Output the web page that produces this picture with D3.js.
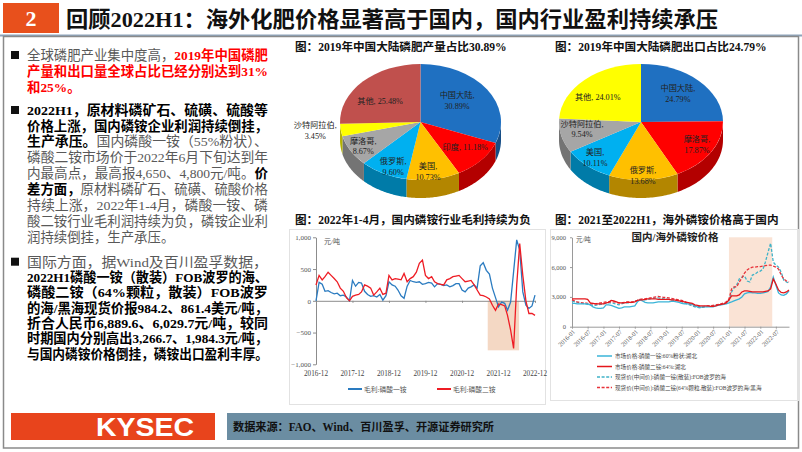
<!DOCTYPE html>
<html><head><meta charset="utf-8">
<script src="https://cdn.jsdelivr.net/npm/d3@7"></script>
<style>
body{margin:0;background:#fff;}
svg{display:block;}
text{font-family:"Liberation Serif","Noto Sans CJK SC",serif;}
</style></head><body>
<svg id="c" width="802" height="452"></svg>
<script>
// ---------------- DATA ----------------
const pie1Labels = ["中国大陆","印度","美国","俄罗斯","摩洛哥","沙特阿拉伯","其他"];
const pie1Values = [30.89,11.18,10.73,9.60,8.67,3.45,25.48];
const pie2Labels = ["中国大陆","摩洛哥","俄罗斯","美国","沙特阿拉伯","其他"];
const pie2Values = [24.79,17.87,13.68,10.11,9.54,24.01];

// gross margin, monthly 2016-12 .. 2022-12 (元/吨)
const marginMAP = [0,290,260,150,160,130,110,120,80,90,60,0,
  320,230,290,280,150,100,70,80,60,100,10,80,
  300,250,230,170,80,40,230,320,300,290,300,260,
  270,290,280,220,270,260,240,250,220,240,270,270,
  170,140,200,220,250,200,550,600,480,420,200,50,
  -95,-20,-40,-150,-20,460,960,800,140,-70,-120,-80,
  90];
const marginDAP = [250,400,330,380,450,400,350,300,200,150,50,0,
  70,90,100,140,250,230,200,90,140,200,100,120,
  400,330,350,340,330,430,300,350,380,450,590,640,
  400,350,380,300,270,260,250,330,350,380,390,400,
  350,300,310,320,250,170,90,80,60,30,-70,-150,
  -50,-60,-80,-230,-460,-750,250,900,400,0,-200,-200,
  -230];
const marginXTicks = ["2016-12","2017-12","2018-12","2019-12","2020-12","2021-12","2022-12"];
const marginYTicks = [1000,500,0,-500,-1000];
const marginShade = ["2021-08-15","2022-06-25"];
const marginShadeFloor = -780;

// prices, monthly 2016-01 .. 2022-12 (元/吨)
const priceMAPHubei = [2350,2350,2300,2300,2300,2300,2300,2200,2000,1900,1850,1850,
  1900,2200,2200,2150,2050,1950,1850,1900,2000,2000,2000,2050,
  2100,2500,2700,2600,2450,2400,2400,2400,2450,2500,2500,2500,
  2500,2500,2550,2550,2500,2450,2350,2300,2300,2300,2250,2100,
  2000,1950,2000,2000,2000,2000,2000,2100,2150,2200,2250,2300,
  2400,2500,2600,2700,2800,3000,3300,3400,3450,3400,3400,3350,
  3350,3400,3450,3550,4000,5000,4200,3400,3200,3150,3300,3600];
const priceDAPHubei = [2800,2800,2800,2800,2800,2800,2750,2400,2350,2300,2300,2300,
  2300,2400,2450,2650,2600,2500,2400,2400,2400,2450,2450,2450,
  2500,2650,2700,2700,2750,2800,2800,2800,2800,2750,2750,2750,
  2750,2750,2700,2700,2650,2600,2550,2500,2450,2400,2350,2200,
  2150,2100,2100,2100,2100,2050,2050,2100,2200,2250,2300,2400,
  2700,3100,3100,3100,3200,3500,3600,3600,3550,3500,3500,3500,
  3500,3500,3550,3600,3800,4800,4300,3700,3450,3400,3500,3700];
const priceMAPFob = [2600,2500,2450,2400,2350,2300,2250,2200,2150,2150,2200,2250,
  2300,2350,2400,2400,2350,2250,2200,2300,2400,2400,2400,2450,
  2550,2650,2700,2700,2700,2750,2800,2850,2900,2900,2850,2800,
  2800,2750,2700,2650,2650,2600,2500,2400,2300,2200,2100,2000,
  1950,1900,1950,2000,2050,2100,2100,2150,2200,2250,2300,2400,
  2600,3500,3900,4200,4800,5000,5100,4600,4500,5200,5300,5500,
  5600,5800,6500,7500,8400,6500,6200,6000,5500,4700,4500,4400];
const priceDAPFob = [2700,2600,2500,2450,2400,2400,2350,2300,2300,2300,2350,2400,
  2450,2500,2500,2500,2500,2450,2400,2400,2450,2500,2500,2500,
  2550,2650,2750,2800,2800,2850,2900,2950,3000,3050,3000,2950,
  2950,2900,2850,2800,2750,2700,2650,2550,2400,2300,2200,2100,
  2050,2000,2000,2050,2100,2100,2150,2200,2250,2300,2400,2500,
  2800,3800,4000,4000,4500,4900,5400,5700,5900,6000,6000,6050,
  6050,6100,6150,6200,6200,6100,6000,5800,5200,4800,4600,4500];
const priceXTicks = ["2016-01","2016-07","2017-01","2017-07","2018-01","2018-07","2019-01","2019-07","2020-01","2020-07","2021-01","2021-07","2022-01","2022-07"];
const priceYTicks = [0,3000,6000,9000];
const priceShade = ["2021-01-01","2022-05-20"];
const priceSeriesNames = ["市场价格:磷酸一铵:60%粉状:湖北","市场价格:磷酸二铵:64%:湖北",
  "现货价(中间价):磷酸一铵(散装):FOB波罗的海","现货价(中间价):磷酸二铵(64%颗粒,散装):FOB波罗的海/黑海"];

// ---------------- DRAW ----------------
const svg = d3.select("#c");
const FONT = '"Liberation Serif","Noto Sans CJK SC",serif';

// header
svg.append("rect").attr("x",3).attr("y",3).attr("width",56).attr("height",30).attr("fill","#e8501c");
svg.append("text").attr("x",31).attr("y",26).attr("text-anchor","middle").attr("fill","#fff")
  .attr("font-size",22).attr("font-weight","bold").text("2");
svg.append("text").attr("x",66).attr("y",27).attr("font-size",22).attr("font-weight","bold")
  .attr("fill","#111").attr("textLength",652).attr("lengthAdjust","spacingAndGlyphs")
  .text("回顾2022H1：海外化肥价格显著高于国内，国内行业盈利持续承压");
svg.append("line").attr("x1",0).attr("x2",802).attr("y1",35.5).attr("y2",35.5).attr("stroke","#8ea4bb").attr("stroke-width",2);
svg.append("rect").attr("x",3.5).attr("y",36.5).attr("width",795).attr("height",411.5)
  .attr("fill","none").attr("stroke","#8a8a8a").attr("stroke-width",1.5);

// left text
const st = {g:{fill:"#595959",w:"normal"}, b:{fill:"#000",w:"bold"}, r:{fill:"#ff0000",w:"bold"}};
const lines = [
 {c:55,bul:1,full:1,p:[["g","全球磷肥产业集中度高，"],["r","2019年中国磷肥"]]},
 {c:71,full:1,p:[["r","产量和出口量全球占比已经分别达到31%"]]},
 {c:86.7,p:[["r","和25%。"]]},
 {c:110,bul:1,full:1,p:[["b","2022H1，原材料磷矿石、硫磺、硫酸等"]]},
 {c:126,full:1,p:[["b","价格上涨，国内磷铵企业利润持续倒挂，"]]},
 {c:141.5,full:1,p:[["b","生产承压。"],["g","国内磷酸一铵（55%粉状）、"]]},
 {c:157.3,full:1,p:[["g","磷酸二铵市场价于2022年6月下旬达到年"]]},
 {c:173.2,full:1,p:[["g","内最高点，最高报4,650、4,800元/吨。"],["b","价"]]},
 {c:189,full:1,p:[["b","差方面，"],["g","原材料磷矿石、硫磺、硫酸价格"]]},
 {c:205,full:1,p:[["g","持续上涨，2022年1-4月，磷酸一铵、磷"]]},
 {c:221,full:1,p:[["g","酸二铵行业毛利润持续为负，磷铵企业利"]]},
 {c:236.7,p:[["g","润持续倒挂，生产承压。"]]},
 {c:261.7,bul:1,full:1,p:[["g","国际方面，据Wind及百川盈孚数据，"]]},
 {c:277.3,full:1,p:[["b","2022H1磷酸一铵（散装）FOB波罗的海、"]]},
 {c:292.5,full:1,p:[["b","磷酸二铵（64%颗粒，散装）FOB波罗"]]},
 {c:307.8,full:1,p:[["b","的海/黑海现货价报984.2、861.4美元/吨，"]]},
 {c:323.3,full:1,p:[["b","折合人民币6,889.6、6,029.7元/吨，较同"]]},
 {c:338.6,full:1,p:[["b","时期国内分别高出3,266.7、1,984.3元/吨，"]]},
 {c:354.3,full:1,p:[["b","与国内磷铵价格倒挂，磷铵出口盈利丰厚。"]]}
];
lines.forEach(l=>{
  if(l.bul) svg.append("rect").attr("x",11).attr("y",l.c-4).attr("width",8).attr("height",8).attr("fill","#111");
  const t = svg.append("text").attr("x",27).attr("y",l.c+4.8).attr("font-size",13.4);
  if(l.full) t.attr("textLength",241).attr("lengthAdjust","spacingAndGlyphs");
  l.p.forEach(([s,txt])=>t.append("tspan").attr("fill",st[s].fill).attr("font-weight",st[s].w).text(txt));
});

// titles
function title(x,y,txt){svg.append("text").attr("x",x).attr("y",y).attr("font-size",11.6).attr("font-weight","bold").attr("fill","#111").text(txt);}
title(295,51,"图：2019年中国大陆磷肥产量占比30.89%");
title(555,51,"图：2019年中国大陆磷肥出口占比24.79%");
title(295,223.5,"图：2022年1-4月，国内磷铵行业毛利持续为负");
title(555,223.5,"图：2021至2022H1，海外磷铵价格高于国内");

// 3D pies
function pie3d(labels, values, colors, cx, cy, rx, ry, depth, lpos, single){
  const arcs = d3.pie().sort(null).value(d=>d)(values);
  const g = svg.append("g").attr("transform",`translate(${cx},${cy})`);
  const pt = a => [rx*Math.sin(a), -ry*Math.cos(a)];
  arcs.forEach((a,i)=>{
    const s = Math.max(a.startAngle, Math.PI/2), e = Math.min(a.endAngle, 3*Math.PI/2);
    if(e<=s) return;
    const n=40, pts=[];
    for(let k=0;k<=n;k++) pts.push(pt(s+(e-s)*k/n));
    const back = pts.slice().reverse().map(p=>[p[0],p[1]+depth]);
    const d = "M"+pts.map(p=>p.join(",")).join("L")+"L"+back.map(p=>p.join(",")).join("L")+"Z";
    g.append("path").attr("d",d).attr("fill",d3.color(colors[i]).darker(1.0));
  });
  const arcGen = d3.arc().innerRadius(0).outerRadius(rx);
  const top = g.append("g").attr("transform",`scale(1,${ry/rx})`);
  arcs.forEach((a,i)=>top.append("path").attr("d",arcGen(a)).attr("fill",colors[i]));
  arcs.forEach((a,i)=>{
    const m=(a.startAngle+a.endAngle)/2, [kx,ky]=lpos[i];
    const x = kx*rx*Math.sin(m), y = -ky*ry*Math.cos(m);
    const pct = values[i].toFixed(2)+"%";
    const t = g.append("text").attr("text-anchor","middle").attr("font-size",8.2).attr("fill","#222");
    if(single.includes(labels[i])){
      t.attr("x",x).attr("y",y+3).text(labels[i]+", "+pct);
    } else {
      t.append("tspan").attr("x",x).attr("y",y-2).text(labels[i]+",");
      t.append("tspan").attr("x",x).attr("y",y+8.5).text(pct);
    }
  });
}
pie3d(pie1Labels,pie1Values,["#1f70c1","#ff0000","#ffc000","#00b0f0","#a6a6a6","#ffff00","#c0504d"],
  420.5,122,80.5,58,18,
  [[.55,.67],[.74,.65],[.58,.86],[.74,.86],[.82,.82],[1.32,1.0],[.70,.53]],["印度","其他"]);
pie3d(pie2Labels,pie2Values,["#1f70c1","#ff0000","#ffc000","#00b0f0","#a6a6a6","#ffff00"],
  641,122,82,58,18,
  [[.64,.70],[.80,.74],[.75,.92],[.855,.81],[.74,.51],[.77,.59]],["其他"]);

// panels
svg.append("rect").attr("x",289.5).attr("y",229.5).attr("width",256).attr("height",175).attr("fill","none").attr("stroke","#e2e2e2");
svg.append("rect").attr("x",550.5).attr("y",229.5).attr("width",248).attr("height",171).attr("fill","none").attr("stroke","#e2e2e2");

// ---- chart 3: margin ----
const pm = d3.timeParse("%Y-%m"), pd = d3.timeParse("%Y-%m-%d");
const mDates = d3.timeMonth.range(new Date(2016,11,1), new Date(2023,0,1));
const x1 = d3.scaleTime().domain([new Date(2016,11,1), new Date(2022,11,1)]).range([316,535]);
const y1 = d3.scaleLinear().domain([-1000,1000]).range([364.3,237.3]);
svg.append("rect").attr("x",x1(pd(marginShade[0]))).attr("y",y1(0))
  .attr("width",x1(pd(marginShade[1]))-x1(pd(marginShade[0]))).attr("height",y1(marginShadeFloor)-y1(0))
  .attr("fill","#f4d8c4");
const ax1 = svg.append("g").attr("transform","translate(316,0)")
  .call(d3.axisLeft(y1).tickValues(marginYTicks).tickSize(3).tickSizeOuter(0).tickPadding(2));
const ax1b = svg.append("g").attr("transform",`translate(0,${y1(0)})`)
  .call(d3.axisBottom(x1).tickValues(marginXTicks.map(pm)).tickSize(2).tickSizeOuter(0).tickFormat(""));
[ax1,ax1b].forEach(a=>{a.selectAll("path,line").attr("stroke","#8c8c8c");a.selectAll("text").attr("font-size",7).attr("fill","#555").style("font-family",FONT);});
svg.selectAll(".xl1").data(marginXTicks).join("text").attr("x",d=>x1(pm(d))).attr("y",375.5)
  .attr("text-anchor","middle").attr("font-size",7.2).attr("fill","#444").text(d=>d);
svg.append("text").attr("x",324).attr("y",244).attr("font-size",7).attr("fill","#555").text("元/吨");
const line1 = d3.line().x((d,i)=>x1(mDates[i])).y(d=>y1(d));
svg.append("path").attr("d",line1(marginMAP)).attr("fill","none").attr("stroke","#2a7bc0").attr("stroke-width",1.3);
svg.append("path").attr("d",line1(marginDAP)).attr("fill","none").attr("stroke","#ee1c24").attr("stroke-width",1.3);
[["#2a7bc0",348,"毛利:磷酸一铵"],["#ee1c24",437,"毛利:磷酸二铵"]].forEach(([c,x,t])=>{
  svg.append("line").attr("x1",x).attr("x2",x+14).attr("y1",389).attr("y2",389).attr("stroke",c).attr("stroke-width",2);
  svg.append("text").attr("x",x+16).attr("y",391.5).attr("font-size",6.8).attr("fill","#555").text(t);
});

// ---- chart 4: prices ----
const pDates = d3.timeMonth.range(new Date(2016,0,1), new Date(2023,0,1));
const x2 = d3.scaleTime().domain([new Date(2016,0,1), new Date(2022,11,1)]).range([572,789]);
const y2 = d3.scaleLinear().domain([0,9000]).range([326.7,237.3]);
svg.append("rect").attr("x",x2(pd(priceShade[0]))).attr("y",y2(9000))
  .attr("width",x2(pd(priceShade[1]))-x2(pd(priceShade[0]))).attr("height",y2(0)-y2(9000)).attr("fill","#fae3d5");
const ax2 = svg.append("g").attr("transform","translate(572,0)")
  .call(d3.axisLeft(y2).tickValues(priceYTicks).tickSize(2).tickSizeOuter(0).tickPadding(4));
const ax2b = svg.append("g").attr("transform",`translate(0,${y2(0)})`)
  .call(d3.axisBottom(x2).tickValues(priceXTicks.map(pm)).tickSize(2).tickSizeOuter(0).tickFormat(""));
[ax2,ax2b].forEach(a=>{a.selectAll("path,line").attr("stroke","#9a9a9a");a.selectAll("text").attr("font-size",6.5).attr("fill","#555").style("font-family",FONT);});
svg.selectAll(".xl2").data(priceXTicks).join("text")
  .attr("transform",d=>`translate(${x2(pm(d))+2},${y2(0)+4}) rotate(-45)`)
  .attr("text-anchor","end").attr("dy","0.35em").attr("font-size",6.3).attr("fill","#555").text(d=>d);
svg.append("text").attr("x",576).attr("y",242).attr("font-size",6.5).attr("fill","#555").text("元/吨");
svg.append("text").attr("x",675).attr("y",241).attr("text-anchor","middle").attr("font-size",10.5).attr("font-weight","bold").attr("fill","#222").text("国内/海外磷铵价格");
const line2 = d3.line().x((d,i)=>x2(pDates[i])).y(d=>y2(d));
const pser = [
  {v:priceMAPFob,c:"#3fb3c8",dash:"3,1.6"},
  {v:priceDAPFob,c:"#e8323a",dash:"3,1.6"},
  {v:priceMAPHubei,c:"#3ab4d8",dash:null},
  {v:priceDAPHubei,c:"#e4161b",dash:null}];
pser.forEach(s=>svg.append("path").attr("d",line2(s.v)).attr("fill","none").attr("stroke",s.c)
  .attr("stroke-width",1.3).attr("stroke-dasharray",s.dash));
const legOrder=[2,3,0,1];
priceSeriesNames.forEach((n,i)=>{
  const s = pser[legOrder[i]], yy = 356+i*10.5;
  svg.append("line").attr("x1",597).attr("x2",612).attr("y1",yy).attr("y2",yy).attr("stroke",s.c).attr("stroke-width",1.5).attr("stroke-dasharray",s.dash);
  svg.append("text").attr("x",615).attr("y",yy+2).attr("font-size",5.6).attr("fill","#444").text(n);
});

// footer
svg.append("rect").attr("x",11).attr("y",413).attr("width",204).attr("height",27).attr("fill","#e8441c");
svg.append("text").attr("x",145).attr("y",436).attr("text-anchor","middle").attr("fill","#fff")
  .style("font-family","'Liberation Sans',Arial,sans-serif").attr("font-weight","bold").attr("font-size",25)
  .attr("textLength",98).attr("lengthAdjust","spacingAndGlyphs").text("KYSEC");
svg.append("rect").attr("x",227).attr("y",413).attr("width",559).attr("height",27).attr("fill","#6b8da2");
svg.append("text").attr("x",233).attr("y",431).attr("font-size",11.5).attr("font-weight","bold").attr("fill","#111")
  .attr("textLength",261).attr("lengthAdjust","spacingAndGlyphs").text("数据来源：FAO、Wind、百川盈孚、开源证券研究所");
</script>
</body></html>
